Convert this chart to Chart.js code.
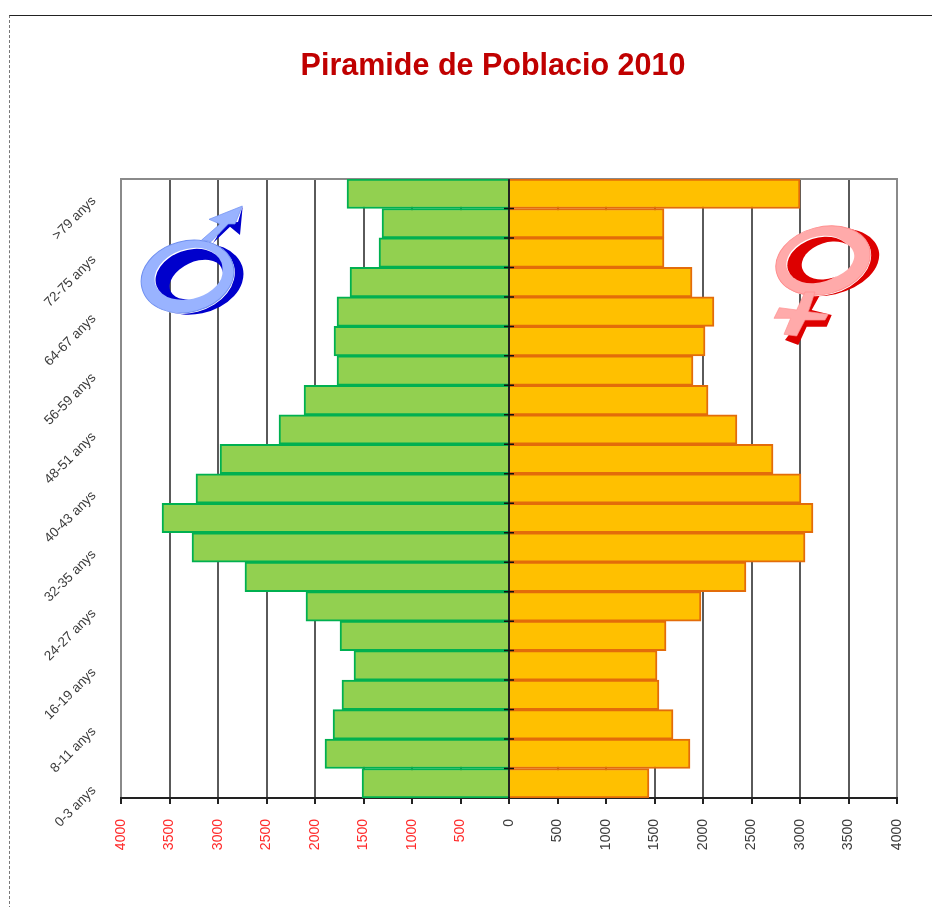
<!DOCTYPE html>
<html>
<head>
<meta charset="utf-8">
<title>Piramide de Poblacio 2010</title>
<script src="https://cdn.jsdelivr.net/npm/chart.js@4"></script>
<style>
  html, body { margin: 0; padding: 0; background: #fff; }
  #wrap { position: relative; width: 932px; height: 907px; overflow: hidden; }
  #frame { position: absolute; left: 9px; top: 15px; right: -2px; bottom: -2px;
           border-top: 1px solid #222; border-left: 1px dashed #777; }
  canvas { position: absolute; left: 0; top: 0; }
  #symbols { position: absolute; left: 0; top: 0; pointer-events: none; }
</style>
</head>
<body>
<div id="wrap">
  <div id="frame"></div>
  <canvas id="piramide" width="932" height="907"></canvas>
  <svg id="symbols" width="932" height="907" viewBox="0 0 932 907">
    <defs>
      <mask id="holeM" maskUnits="userSpaceOnUse" x="0" y="0" width="932" height="907">
        <rect width="932" height="907" fill="#fff"/>
        <ellipse cx="196" cy="279.5" rx="28" ry="17.5" transform="rotate(-25 196 279.5)" fill="#000"/>
      </mask>
      <mask id="holeF" maskUnits="userSpaceOnUse" x="0" y="0" width="932" height="907">
        <rect width="932" height="907" fill="#fff"/>
        <ellipse cx="828" cy="260.5" rx="27" ry="18" transform="rotate(-18 828 260.5)" fill="#000"/>
      </mask>
    </defs>
    <!-- male -->
    <g mask="url(#holeM)">
      <polygon points="242.7,206 240,235 230,226.7 213,243 226,223 238,222" fill="#0000cc"/>
      <ellipse cx="195" cy="279" rx="49" ry="35" transform="rotate(-12 195 279)" fill="#0000cc"/>
      <ellipse cx="188.5" cy="277.5" rx="47" ry="35.5" transform="rotate(-15 188.5 277.5)" fill="#fff"/>
      <ellipse cx="187.5" cy="276.5" rx="47" ry="35.5" transform="rotate(-15 187.5 276.5)" fill="#99b3ff" stroke="#6f8ff0"/>
      <polygon points="242.3,206 209,219.3 220,224 201.7,240 211,241.7 228.3,224 235,224 241,209.3" fill="#99b3ff" stroke="#6f8ff0" stroke-width="0.7"/>
      <ellipse cx="188" cy="273.3" rx="34.5" ry="24" transform="rotate(-20 188 273.3)" fill="#fff"/>
      <ellipse cx="189" cy="274.3" rx="34.5" ry="24" transform="rotate(-20 189 274.3)" fill="#0000cc"/>
    </g>
    <!-- female -->
    <g mask="url(#holeF)">
      <polygon points="820,295 811.7,310 831.7,315 826.7,326.7 806.7,326.7 798.3,345 785,340 800,320 805,295" fill="#dd0000"/>
      <ellipse cx="828" cy="262" rx="52" ry="33" transform="rotate(-13 828 262)" fill="#dd0000"/>
      <ellipse cx="824" cy="261.5" rx="48" ry="33.5" transform="rotate(-15 824 261.5)" fill="#fff"/>
      <ellipse cx="823" cy="260.5" rx="48" ry="33.5" transform="rotate(-15 823 260.5)" fill="#ffaaaa" stroke="#ff8f8f"/>
      <polygon points="805,292 815,292 808.3,311.7 828.3,314.3 825,320 805,320 796.7,336 784,334.3 790.7,318.3 774,318.3 779.3,307.7 796.7,310" fill="#ffaaaa" stroke="#ff8f8f" stroke-width="0.7"/>
      <ellipse cx="818" cy="259" rx="32.5" ry="22" transform="rotate(-18 818 259)" fill="#fff"/>
      <ellipse cx="819" cy="260" rx="32.5" ry="22" transform="rotate(-18 819 260)" fill="#dd0000"/>
    </g>
  </svg>
</div>

<script>
// Piramide de poblacio, youngest group first
const ageGroups = ['0-3 anys', '4-7 anys', '8-11 anys', '12-15 anys', '16-19 anys', '20-23 anys', '24-27 anys',
    '28-31 anys', '32-35 anys', '36-39 anys', '40-43 anys', '44-47 anys', '48-51 anys', '52-55 anys',
    '56-59 anys', '60-63 anys', '64-67 anys', '68-71 anys', '72-75 anys', '76-79 anys', '>79 anys'];
const homes = [1515, 1897, 1814, 1722, 1598, 1742, 2093, 2722, 3268, 3577, 3227, 2979, 2371, 2113, 1773, 1804, 1773, 1639, 1340, 1309, 1670];
const dones = [1443, 1866, 1691, 1546, 1526, 1619, 1979, 2443, 3052, 3134, 3010, 2722, 2350, 2052, 1897, 2021, 2113, 1887, 1598, 1598, 3000];
const titol = 'Piramide de Poblacio 2010';

const darkText = '#3c3c3c';

// line on zero and the top edge of the plot, the library has no option for these
const extraLines = {
    id: 'extraLines',
    // title is not centred on the canvas in the original
    afterLayout(chart) {
        chart.titleBlock.left = 89;
    },
    beforeDatasetsDraw(chart) {
        const a = chart.chartArea;
        const c = chart.ctx;
        c.save();
        c.strokeStyle = '#8a8a8a';
        c.lineWidth = 2;
        c.beginPath();
        c.moveTo(a.left - 1, a.top);
        c.lineTo(a.right + 1, a.top);
        c.stroke();
        c.restore();
    },
    afterDatasetsDraw(chart) {
        const x0 = chart.scales.x.getPixelForValue(0);
        const yScale = chart.scales.y;
        const a = chart.chartArea;
        const c = chart.ctx;
        c.save();
        c.strokeStyle = '#111';
        c.lineWidth = 1.5;
        c.beginPath();
        c.moveTo(x0, a.top);
        c.lineTo(x0, a.bottom);
        // little ticks between the age groups
        for (let i = 0; i < ageGroups.length - 1; i++) {
            const yTick = (yScale.getPixelForValue(i) + yScale.getPixelForValue(i + 1)) / 2;
            c.moveTo(x0 - 5, yTick);
            c.lineTo(x0 + 5, yTick);
        }
        c.stroke();
        c.restore();
    }
};

new Chart(document.getElementById('piramide'), {
    type: 'bar',
    plugins: [extraLines],
    data: {
        labels: ageGroups,
        datasets: [
            {
                label: 'Homes',
                data: homes.map(v => -v),
                backgroundColor: '#92d050',
                borderColor: '#00b050',
                borderWidth: 2,
                borderSkipped: 'start',
                grouped: false,
                barPercentage: 1,
                categoryPercentage: 1
            },
            {
                label: 'Dones',
                data: dones,
                backgroundColor: '#ffc000',
                borderColor: '#e36c0a',
                borderWidth: 2,
                borderSkipped: 'start',
                grouped: false,
                barPercentage: 1,
                categoryPercentage: 1
            }
        ]
    },
    options: {
        indexAxis: 'y',
        responsive: false,
        animation: false,
        layout: { padding: { left: 0, right: 35, top: 0, bottom: 0 } },
        plugins: {
            legend: { display: false },
            tooltip: { enabled: false },
            title: {
                display: true,
                text: titol,
                color: '#c00000',
                font: { family: '"Liberation Sans", Arial, sans-serif', size: 30.5, weight: 'bold' },
                padding: { top: 48, bottom: 94.4 }
            }
        },
        scales: {
            x: {
                type: 'linear',
                min: -4000,
                max: 4000,
                ticks: {
                    stepSize: 500,
                    minRotation: 90,
                    maxRotation: 90,
                    padding: 15,
                    font: { family: '"Liberation Sans", Arial, sans-serif', size: 14 },
                    color: ctx => ctx.tick.value < 0 ? '#ff2a2a' : darkText,
                    callback: v => Math.abs(v)
                },
                grid: {
                    z: -1,
                    lineWidth: 2,
                    tickLength: 6,
                    color: ctx => Math.abs(ctx.tick.value) === 4000 ? '#8a8a8a' : '#5a5a5a',
                    tickColor: '#222'
                },
                border: { color: '#222', width: 2 },
                afterFit(scale) { scale.height = 109; }
            },
            y: {
                reverse: true,
                ticks: {
                    autoSkip: false,
                    minRotation: 45,
                    maxRotation: 45,
                    padding: 19,
                    labelOffset: 5,
                    font: { family: '"Liberation Sans", Arial, sans-serif', size: 13.5 },
                    color: darkText,
                    callback(v, i) { return i % 2 === 0 ? this.getLabelForValue(v) : ''; }
                },
                grid: { display: false },
                border: { display: false },
                afterFit(scale) { scale.width = 121; }
            }
        }
    }
});
</script>
</body>
</html>
